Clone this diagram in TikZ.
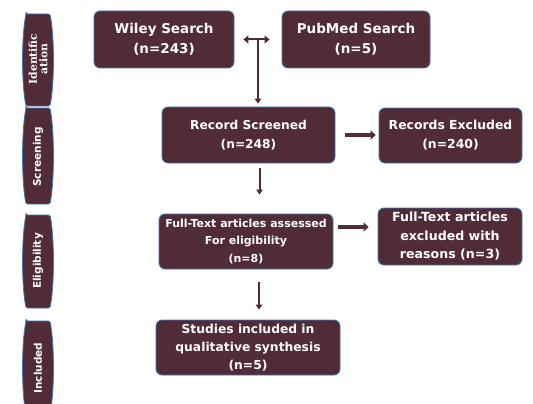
\documentclass[tikz,border=0pt]{standalone}
\usepackage{fontspec}
\setmainfont{DejaVu Sans}
\newfontfamily\serifb{DejaVu Serif}
\usetikzlibrary{arrows.meta,calc}
\definecolor{maroon}{HTML}{512C37}
\definecolor{edgeblue}{HTML}{3A78B5}
\newcommand\sidecap[2]{%
  \draw[draw=edgeblue,line width=0.8pt,fill=maroon,rounded corners=1.5pt]
    (26,#1) -- (50,#1) .. controls (54.5,{#1+(#2-#1)/4}) and (54.5,{#2-(#2-#1)/4}) .. (50,#2)
    -- (26,#2) .. controls (21.5,{#2-(#2-#1)/4}) and (21.5,{#1+(#2-#1)/4}) .. (26,#1) -- cycle;}
\begin{document}
\begin{tikzpicture}[x=1pt,y=-1pt,
  box/.style={draw=edgeblue, line width=0.8pt, fill=maroon, rounded corners=6pt,
    text=white, align=center, inner sep=0pt},
  sidelabel/.style={text=white, rotate=90, align=center, font=\bfseries\fontsize{10.5}{11}\selectfont},
  thinarrow/.style={draw=maroon, line width=2pt, -{Triangle[width=6.5pt,length=5pt]}},
  dblarrow/.style={draw=maroon, line width=2pt, {Triangle[width=8pt,length=5pt]}-{Triangle[width=8pt,length=5pt]}},
  fatarrow/.style={draw=maroon, line width=3.5pt, -{Triangle[width=9pt,length=5pt]}}]
\useasboundingbox (0,0) rectangle (533,404);
\fill[white] (0,0) rectangle (533,404);

% side phase labels
\sidecap{14}{106}
\sidecap{108}{204}
\sidecap{215}{308}
\sidecap{321}{414}
\node[sidelabel, font=\serifb\bfseries\fontsize{10.8}{10.5}\selectfont] (lid) at (38,59) {Identific\\ation};
\node[sidelabel] (lsc) at (38,157) {Screening};
\node[sidelabel] (lel) at (38,261) {Eligibility};
\node[sidelabel] (lin) at (38,368) {Included};

% boxes
\node[box, font=\bfseries\fontsize{13.5}{19.5}\selectfont, minimum width=140pt, minimum height=57pt] (wiley) at (164,39.5) {Wiley Search\\(n=243)};
\node[box, font=\bfseries\fontsize{13.5}{19.5}\selectfont, minimum width=148pt, minimum height=57pt] (pubmed) at (356,39.5) {PubMed Search\\(n=5)};
\node[box, font=\bfseries\fontsize{12.2}{19}\selectfont, minimum width=173pt, minimum height=56pt] (screened) at (248.5,135) {Record Screened\\(n=248)};
\node[box, font=\bfseries\fontsize{12.4}{19}\selectfont, minimum width=143pt, minimum height=55pt] (excluded) at (450.5,135.5) {Records Excluded\\(n=240)};
\node[box, font=\bfseries\fontsize{11}{17.5}\selectfont, minimum width=174pt, minimum height=55pt] (assessed) at (246,241.5) {Full-Text articles assessed\\For eligibility\\(n=8)};
\node[box, font=\bfseries\fontsize{12.6}{18.5}\selectfont, minimum width=144pt, minimum height=57pt] (excl2) at (450,236.5) {Full-Text articles\\excluded with\\reasons (n=3)};
\node[box, font=\bfseries\fontsize{12.3}{18}\selectfont, minimum width=184pt, minimum height=55pt] (included) at (248,347.5) {Studies included in\\qualitative synthesis\\(n=5)};

% connectors
\coordinate (j) at ($(wiley.east)!0.5!(pubmed.west)$);
\draw[dblarrow, shorten <=9pt, shorten >=12pt] (wiley.east) -- (pubmed.west);
\draw[thinarrow, shorten >=3pt] (j) -- (j |- screened.north);
\draw[fatarrow, shorten <=10pt, shorten >=3pt] (screened.east) -- (screened.east -| excluded.west);
\draw[thinarrow, shorten <=5pt, shorten >=19pt] ([xshift=11pt]screened.south) -- ([xshift=11pt]screened.south |- assessed.north);
\draw[fatarrow, shorten <=5pt, shorten >=9pt] ([yshift=14.5pt]assessed.east) -- ([yshift=14.5pt]assessed.east -| excl2.west);
\draw[thinarrow, shorten <=13pt, shorten >=10pt] ([xshift=13pt]assessed.south) -- ([xshift=13pt]assessed.south |- included.north);
\end{tikzpicture}
\end{document}
